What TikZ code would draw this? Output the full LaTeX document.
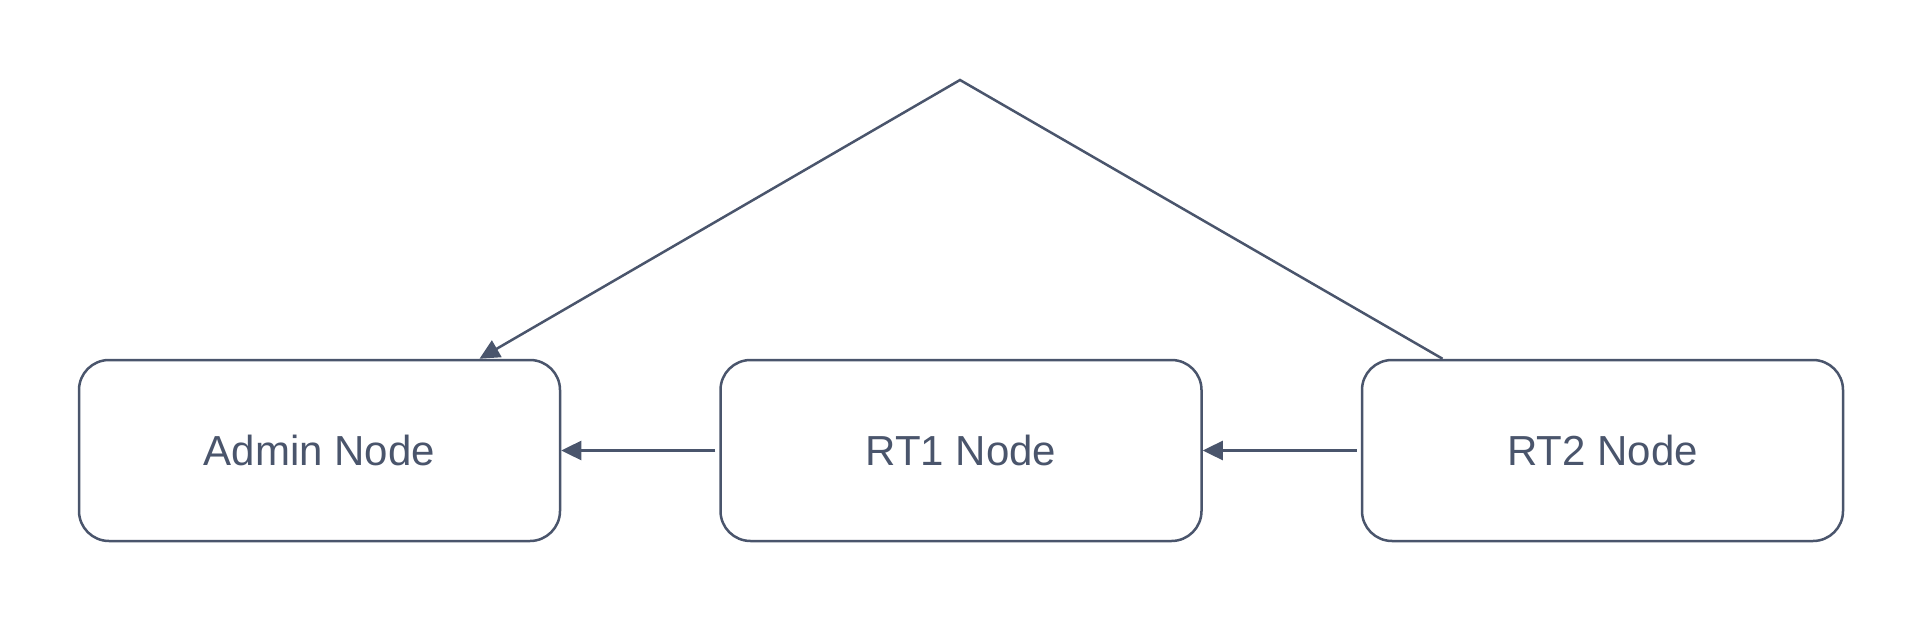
\documentclass[tikz,border=0pt]{standalone}
\usepackage{fontspec}
\setmainfont{Liberation Sans}
\usetikzlibrary{arrows.meta, positioning}
\definecolor{slate}{RGB}{74,85,108}
\tikzstyle{arrow}=[-{Triangle[length=20pt, width=19pt]}, line width=2.5pt, color=slate]

\begin{document}
\begin{tikzpicture}[x=1pt, y=-1pt, node distance=158pt,
  box/.style={rectangle, rounded corners=30pt, draw=slate, line width=2.5pt,
              fill=white, minimum width=481pt, minimum height=181pt,
              align=center, text=slate, font=\fontsize{42}{48}\selectfont}
]
\useasboundingbox (0,0) rectangle (1920,620);

% Row of nodes
\node[box] (admin) at (319.5,450.5) {Admin Node};
\node[box, right=of admin] (rtone) {RT1 Node};
\node[box, right=of rtone] (rttwo) {RT2 Node};

% Top corner of the long connector
\coordinate (apex) at (960,80);

% Arrows
\draw[arrow, shorten <=4pt] (rtone.west) -- (admin.east);
\draw[arrow, shorten <=4pt] (rttwo.west) -- (rtone.east);
\draw[arrow] ([xshift=-160pt]rttwo.north) -- (apex) -- ([xshift=160pt]admin.north);
\end{tikzpicture}
\end{document}
